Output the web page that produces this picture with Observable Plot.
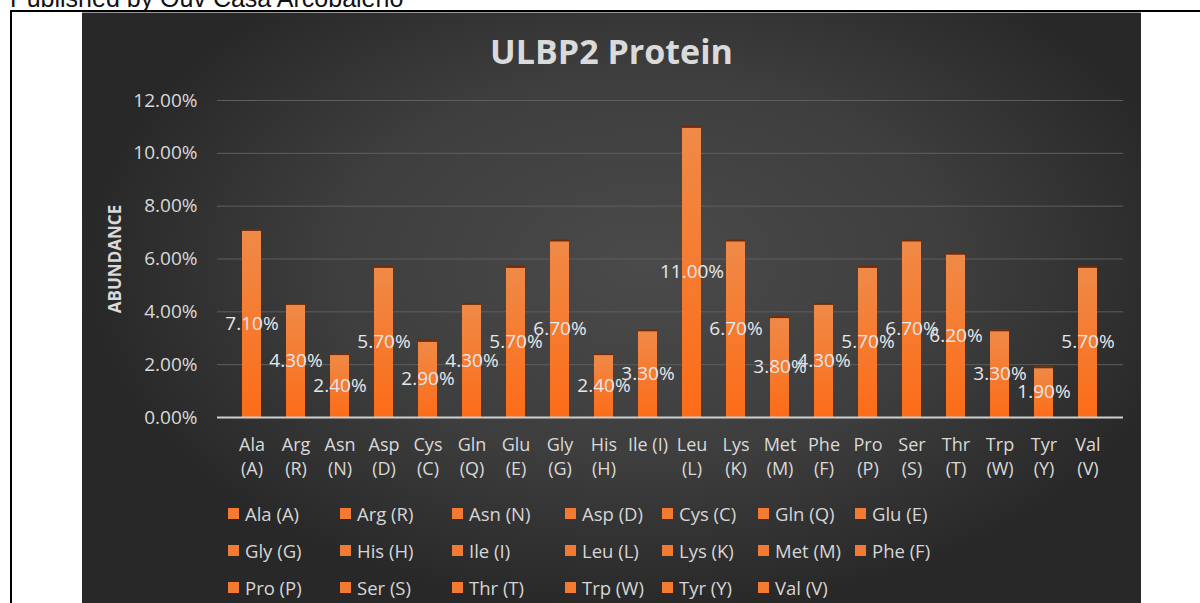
<!DOCTYPE html>
<html>
<head>
<meta charset="utf-8">
<script src="https://cdn.jsdelivr.net/npm/d3@7"></script>
<script src="https://cdn.jsdelivr.net/npm/@observablehq/plot@0.6"></script>
<style>
  html, body { margin: 0; padding: 0; background: #fff; }
  body { width: 1200px; height: 603px; overflow: hidden; position: relative; font-family: "Open Sans", sans-serif; }
  #published { position: absolute; left: 10px; top: -14px; font-family: "Liberation Sans", Arial, sans-serif; font-size: 25px; line-height: 25px; color: #111; white-space: nowrap; }
  #frame { position: absolute; left: 10px; top: 10px; width: 1400px; height: 800px; border-top: 2px solid #000; border-left: 2px solid #000; }
  #chart { position: absolute; left: 82px; top: 12px; width: 1059px; height: 600px; border-top: 1px solid #9a9a9a;
    background: radial-gradient(ellipse farthest-side at 53% 42%, #4a4a4a 0%, #3e3e3e 55%, #282828 100%); overflow: hidden; }
  #title { position: absolute; left: 0; top: 21px; width: 100%; text-align: center; font-family: "Open Sans", sans-serif; font-weight: bold; font-size: 34px; line-height: 34px; color: #dadada; }
  #plot { position: absolute; left: 0; top: 70px; }
  #legend { position: absolute; left: 0; top: 0; width: 100%; height: 100%; pointer-events: none; }
  .item { position: absolute; display: flex; align-items: center; height: 24px; white-space: nowrap; font-family: "Open Sans", sans-serif; font-size: 18.5px; color: #d6d6d6; }
  .sw { width: 11px; height: 11px; background: #f27a32; margin-right: 6px; }
</style>
</head>
<body>
<div id="published">Published by Ouv Casa Arcobaleno</div>
<div id="frame"></div>
<div id="chart">
  <div id="title">ULBP2 Protein</div>
  <div id="plot"></div>
  <div id="legend"></div>
</div>
<script>
const names = ["Ala (A)", "Arg (R)", "Asn (N)", "Asp (D)", "Cys (C)", "Gln (Q)", "Glu (E)", "Gly (G)", "His (H)", "Ile (I)",
  "Leu (L)", "Lys (K)", "Met (M)", "Phe (F)", "Pro (P)", "Ser (S)", "Thr (T)", "Trp (W)", "Tyr (Y)", "Val (V)"];
const xTickLabels = ["Ala\n(A)", "Arg\n(R)", "Asn\n(N)", "Asp\n(D)", "Cys\n(C)", "Gln\n(Q)", "Glu\n(E)", "Gly\n(G)", "His\n(H)", "Ile (I)",
  "Leu\n(L)", "Lys\n(K)", "Met\n(M)", "Phe\n(F)", "Pro\n(P)", "Ser\n(S)", "Thr\n(T)", "Trp\n(W)", "Tyr\n(Y)", "Val\n(V)"];
const values = [0.071, 0.043, 0.024, 0.057, 0.029, 0.043, 0.057, 0.067, 0.024, 0.033,
  0.110, 0.067, 0.038, 0.043, 0.057, 0.067, 0.062, 0.033, 0.019, 0.057];
const yTicks = [0, 0.02, 0.04, 0.06, 0.08, 0.10, 0.12];
const titleText = "ULBP2 Protein";
const yLabel = "ABUNDANCE";

const data = names.map((name, i) => ({name, value: values[i]}));
const tickLabelOf = new Map(names.map((n, i) => [n, xTickLabels[i]]));
const pct = d3.format(".2%");

const gradientDefs = () => {
  const ns = "http://www.w3.org/2000/svg";
  const defs = document.createElementNS(ns, "defs");
  const lg = document.createElementNS(ns, "linearGradient");
  lg.setAttribute("id", "barGrad");
  lg.setAttribute("x1", "0"); lg.setAttribute("y1", "0");
  lg.setAttribute("x2", "0"); lg.setAttribute("y2", "1");
  [["0%", "#ef8a48"], ["100%", "#fc6c18"]].forEach(([o, c]) => {
    const s = document.createElementNS(ns, "stop");
    s.setAttribute("offset", o); s.setAttribute("stop-color", c);
    lg.appendChild(s);
  });
  defs.appendChild(lg);
  return defs;
};

const chart = Plot.plot({
  width: 1059,
  height: 400,
  marginLeft: 135,
  marginRight: 18,
  marginTop: 17,
  marginBottom: 66,
  style: {background: "transparent", color: "#d9d9d9", fontFamily: "Open Sans, sans-serif", fontSize: "18px"},
  x: {domain: names, padding: 0.56, axis: null, label: null},
  y: {domain: [0, 0.12], axis: null, label: null},
  marks: [
    gradientDefs,
    Plot.gridY(yTicks, {stroke: "#5e5e5e", strokeOpacity: 1}),
    Plot.barY(data, {x: "name", y: "value", fill: "url(#barGrad)"}),
    Plot.tickY(data, {x: "name", y: "value", stroke: "#6e2c0c", strokeWidth: 2}),
    Plot.ruleY([0], {stroke: "#cfcfcf", strokeWidth: 2}),
    Plot.axisY({ticks: yTicks, tickFormat: pct, tickSize: 0, tickPadding: 20, fontSize: 19, label: null}),
    Plot.axisX({tickSize: 0, tickPadding: 16, tickFormat: d => tickLabelOf.get(d), lineHeight: 1.35, fontSize: 18, label: null}),
    Plot.text(data, {x: "name", y: d => d.value / 2, text: d => pct(d.value), fill: "#e4e8ec", fontSize: 19}),
    Plot.text([yLabel], {frameAnchor: "left", textAnchor: "middle", dx: -102, rotate: -90, fontWeight: "bold", fontSize: 17, fill: "#d9d9d9"})
  ]
});
document.getElementById("plot").appendChild(chart);
document.getElementById("title").textContent = titleText;

// Legend (HTML, below the plot)
const colX = [146, 258, 370, 483, 580, 676, 773];
const rowY = [500, 537, 574];
const legend = document.getElementById("legend");
names.forEach((n, i) => {
  const r = Math.floor(i / 7), c = i % 7;
  const item = document.createElement("div");
  item.className = "item";
  item.style.left = colX[c] + "px";
  item.style.top = (rowY[r] - 12) + "px";
  const sw = document.createElement("span");
  sw.className = "sw";
  const t = document.createElement("span");
  t.textContent = n;
  item.appendChild(sw);
  item.appendChild(t);
  legend.appendChild(item);
});
</script>
</body>
</html>
